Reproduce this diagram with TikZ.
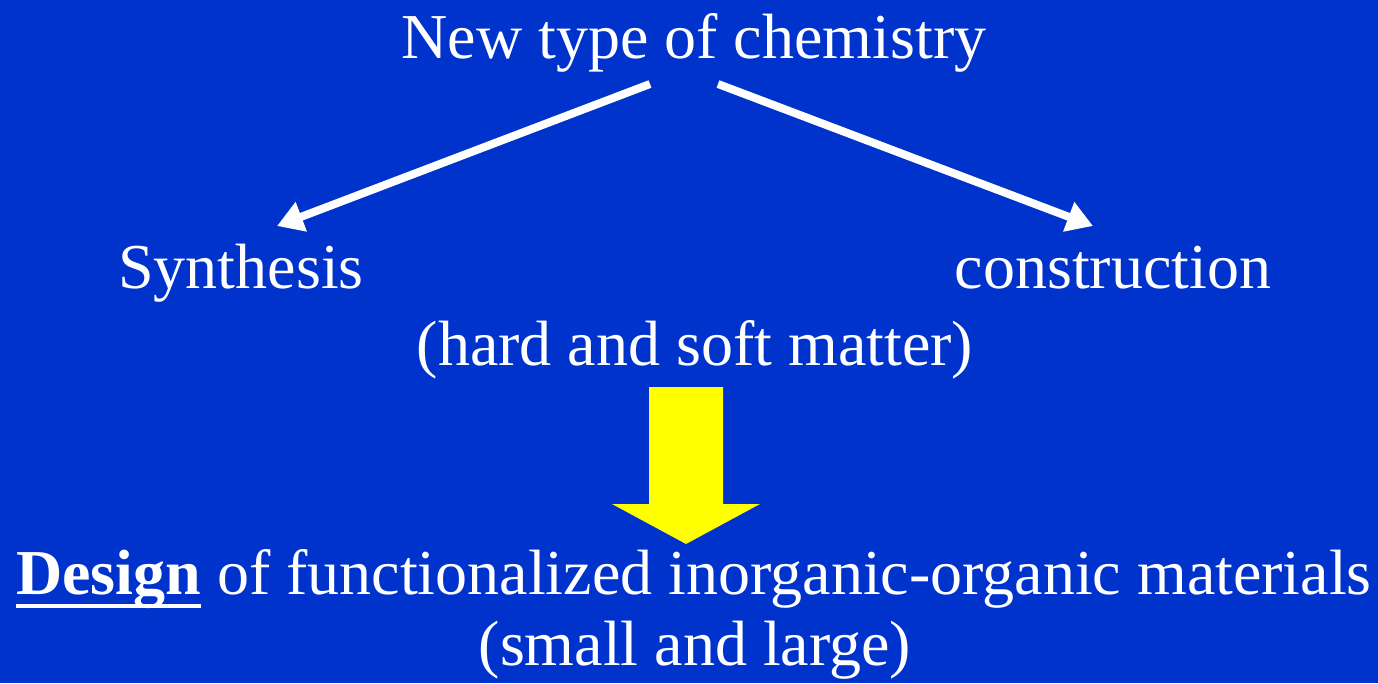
\documentclass[tikz,border=0pt]{standalone}
\usepackage{fontspec}
\setmainfont{Liberation Serif}
\usetikzlibrary{arrows.meta}
\definecolor{bg}{HTML}{0033CC}
\definecolor{yel}{HTML}{FFFF00}
\newcommand\myul[1]{\setbox0\hbox{#1}\rlap{\rule[-14pt]{\wd0}{4.5pt}}\box0\relax}
\begin{document}
\begin{tikzpicture}[x=1pt,y=-1pt,
  lbl/.style={text=white,font=\fontsize{64}{70}\selectfont,inner sep=0pt,anchor=base},
  wa/.style={draw=white,line width=8pt,-{Triangle[length=26pt,width=30pt]}}]
\fill[bg] (0,0) rectangle (1378,683);
\useasboundingbox (0,0) rectangle (1378,683);
\node[lbl] (top) at (694,58) {New type of chemistry};
\node[lbl] (syn) at (241,288) {Synthesis};
\node[lbl] (con) at (1113,288) {construction};
\node[lbl] (hsm) at (695,365) {(hard and soft matter)};
\node[lbl] (des) at (694,594) {\myul{\textbf{Design}} of functionalized inorganic-organic materials};
\node[lbl] (sml) at (695,665) {(small and large)};
\coordinate (l0) at (650,84);
\coordinate (l1) at (277,226);
\coordinate (r0) at (718,84);
\coordinate (r1) at (1093,226);
\draw[wa] (l0) -- (l1);
\draw[wa] (r0) -- (r1);
\fill[yel] (649,387) -- (723,387) -- (723,504) -- (760,504) -- (686,544) -- (612,504) -- (649,504) -- cycle;
\end{tikzpicture}
\end{document}
